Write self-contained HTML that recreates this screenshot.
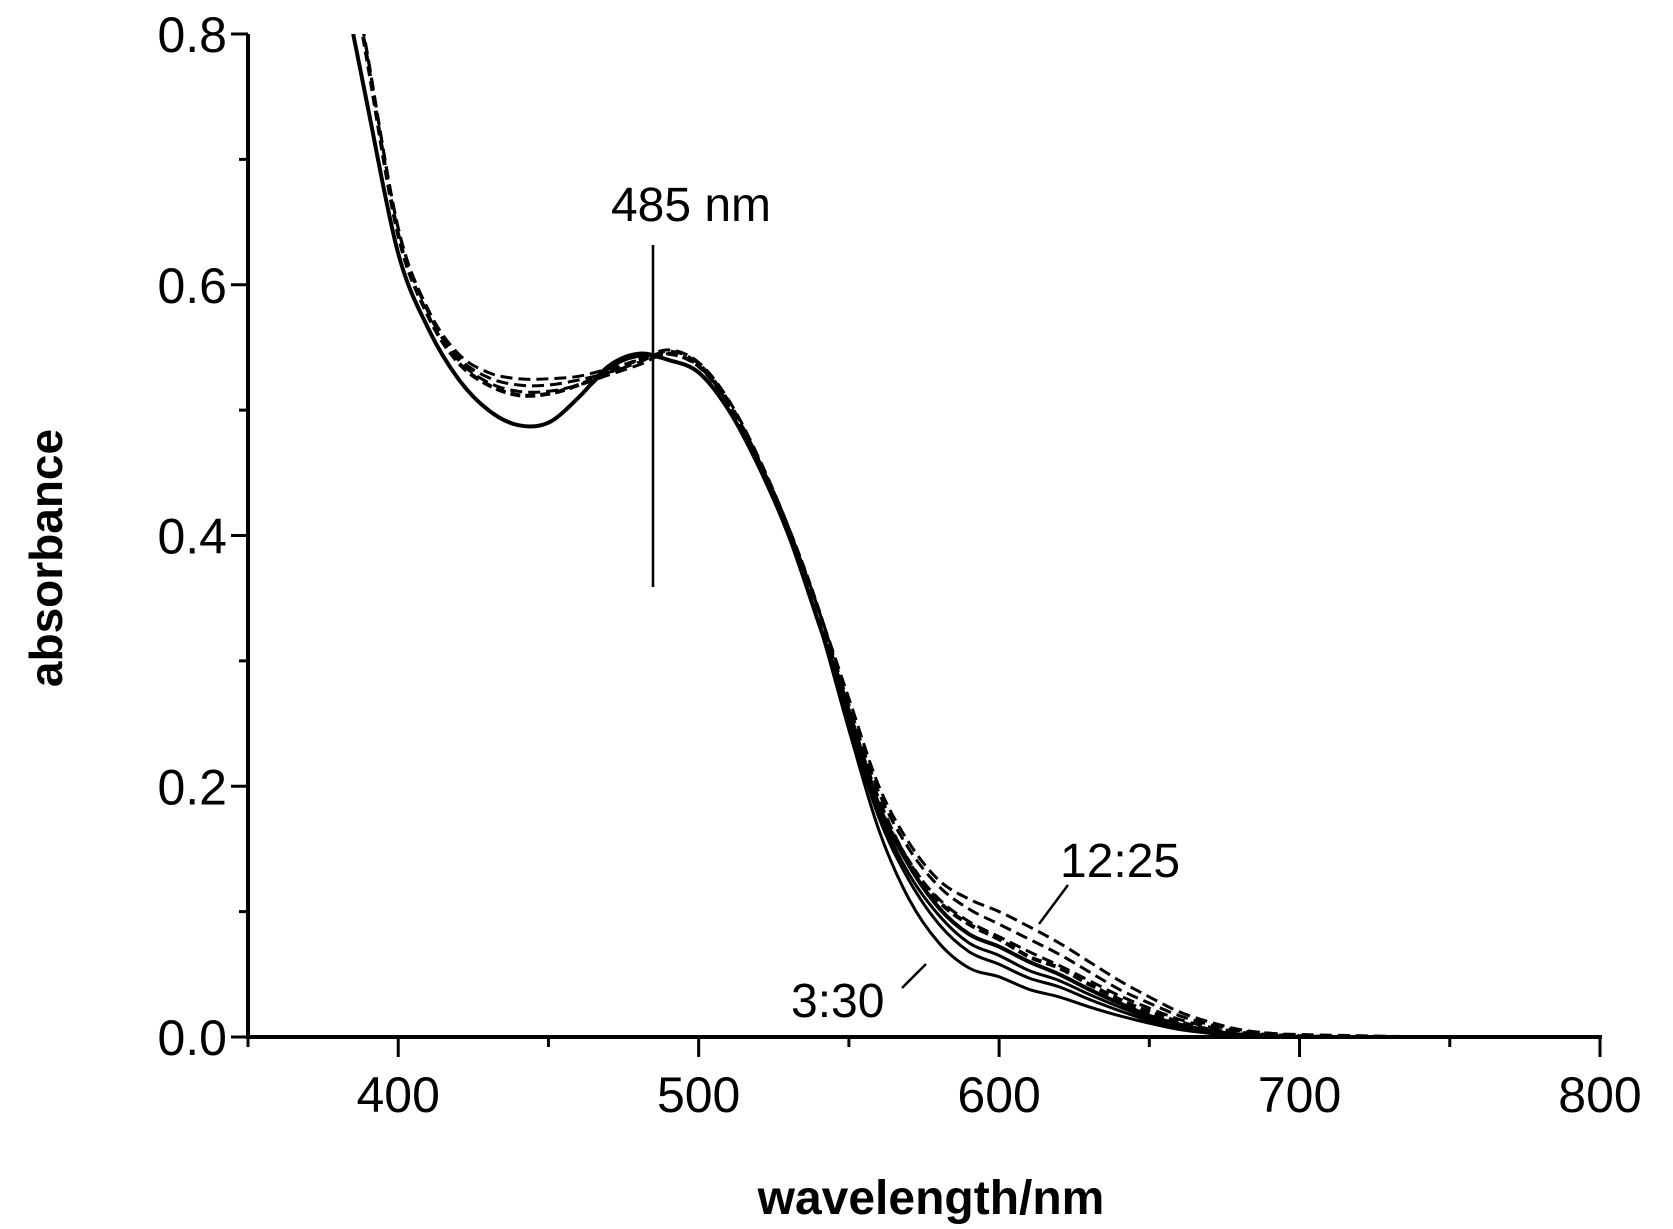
<!DOCTYPE html>
<html><head><meta charset="utf-8"><style>
html,body{margin:0;padding:0;background:#fff}
svg{display:block}
text{font-family:"Liberation Sans",Arial,sans-serif;fill:#000}
</style></head><body>
<svg id="chart" width="1673" height="1229" viewBox="0 0 1673 1229" xmlns="http://www.w3.org/2000/svg">
<defs><clipPath id="plotclip"><rect x="248" y="34" width="1352" height="1003"/></clipPath></defs>
<g id="series" clip-path="url(#plotclip)"></g>
<g id="axes"></g>
<line x1="653" y1="245" x2="653" y2="587" stroke="#000" stroke-width="2.5"/>
<text x="691" y="221" font-size="48" text-anchor="middle">485 nm</text>
<text x="1060" y="877" font-size="48">12:25</text>
<line x1="1068" y1="885" x2="1039" y2="924" stroke="#000" stroke-width="2.5"/>
<text x="791" y="1017" font-size="48">3:30</text>
<line x1="902" y1="988" x2="926" y2="964" stroke="#000" stroke-width="2.5"/>
<text x="0" y="0" font-size="46" font-weight="bold" text-anchor="middle" transform="translate(62,558) rotate(-90)">absorbance</text>
<text x="931" y="1214" font-size="48" font-weight="bold" text-anchor="middle">wavelength/nm</text>
</svg>
<script>
const wavelengths=[385,390,400,410,420,430,440,450,460,470,480,490,500,510,520,530,540,550,560,570,580,590,600,610,620,630,640,650,660,670,680,690,700,720,750,800];
const solid1=[0.80,0.74,0.625,0.565,0.525,0.50,0.488,0.49,0.51,0.533,0.543,0.54,0.53,0.50,0.455,0.40,0.33,0.245,0.165,0.11,0.075,0.055,0.048,0.038,0.032,0.024,0.017,0.011,0.006,0.003,0.001,0,0,0,0,0];
const solid2=[0.80,0.74,0.625,0.565,0.525,0.50,0.488,0.49,0.51,0.533,0.543,0.54,0.53,0.50,0.455,0.40,0.33,0.25,0.175,0.125,0.09,0.068,0.058,0.047,0.040,0.030,0.021,0.013,0.007,0.003,0.001,0,0,0,0,0];
const solid3=[0.80,0.74,0.625,0.565,0.525,0.50,0.488,0.49,0.51,0.533,0.543,0.54,0.53,0.50,0.455,0.40,0.33,0.255,0.18,0.13,0.097,0.075,0.065,0.053,0.045,0.034,0.024,0.015,0.008,0.004,0.002,0,0,0,0,0];
const solid4=[0.80,0.74,0.625,0.565,0.525,0.50,0.488,0.49,0.51,0.535,0.545,0.54,0.53,0.50,0.455,0.40,0.33,0.26,0.185,0.137,0.103,0.082,0.072,0.06,0.05,0.038,0.027,0.017,0.01,0.005,0.002,0.001,0,0,0,0];
const dash1=[0.85,0.78,0.645,0.578,0.54,0.522,0.515,0.515,0.52,0.528,0.536,0.545,0.535,0.505,0.46,0.405,0.34,0.27,0.2,0.155,0.125,0.11,0.1,0.088,0.075,0.06,0.045,0.032,0.02,0.012,0.006,0.003,0.002,0.001,0,0];
const dash2=[0.85,0.78,0.645,0.578,0.542,0.526,0.52,0.52,0.524,0.53,0.538,0.547,0.537,0.507,0.46,0.405,0.34,0.265,0.195,0.15,0.12,0.102,0.09,0.078,0.066,0.052,0.038,0.027,0.017,0.01,0.005,0.003,0.001,0,0,0];
const dash3=[0.85,0.78,0.645,0.58,0.545,0.53,0.525,0.525,0.527,0.533,0.54,0.548,0.538,0.508,0.462,0.406,0.34,0.26,0.19,0.14,0.11,0.092,0.08,0.068,0.057,0.045,0.033,0.023,0.014,0.008,0.004,0.002,0.001,0,0,0];
const dash4=[0.845,0.775,0.64,0.575,0.538,0.52,0.512,0.513,0.52,0.53,0.54,0.545,0.535,0.505,0.46,0.405,0.34,0.26,0.185,0.14,0.108,0.09,0.078,0.064,0.055,0.042,0.03,0.02,0.012,0.006,0.003,0.001,0,0,0,0];
const xTicks=[400,500,600,700,800];
const yTicks=[0.0,0.2,0.4,0.6,0.8];
const yTickLabels=["0.0","0.2","0.4","0.6","0.8"];

const NS="http://www.w3.org/2000/svg";
const X0=248,X1=1600,XMIN=350,XMAX=800,Y0=1037,Y1=34,YMIN=0,YMAX=0.8;
function sx(v){return X0+(v-XMIN)/(XMAX-XMIN)*(X1-X0);}
function sy(v){return Y0-(v-YMIN)/(YMAX-YMIN)*(Y0-Y1);}
function mk(tag,attrs,parent){const e=document.createElementNS(NS,tag);for(const k in attrs)e.setAttribute(k,attrs[k]);parent.appendChild(e);return e;}
function smooth(pts){
  let d='M'+pts[0][0].toFixed(1)+','+pts[0][1].toFixed(1);
  for(let i=0;i<pts.length-1;i++){
    const p0=pts[Math.max(0,i-1)],p1=pts[i],p2=pts[i+1],p3=pts[Math.min(pts.length-1,i+2)];
    const c1=[p1[0]+(p2[0]-p0[0])/6,p1[1]+(p2[1]-p0[1])/6];
    const c2=[p2[0]-(p3[0]-p1[0])/6,p2[1]-(p3[1]-p1[1])/6];
    d+=' C'+c1[0].toFixed(1)+','+c1[1].toFixed(1)+' '+c2[0].toFixed(1)+','+c2[1].toFixed(1)+' '+p2[0].toFixed(1)+','+p2[1].toFixed(1);
  }
  return d;
}

const sg=document.getElementById('series');
const list=[[solid1,'solid-1',3,null],[solid2,'solid-2',3,null],[solid3,'solid-3',3,null],[solid4,'solid-4',4,null],
 [dash1,'dashed-1',3,'12,6'],[dash2,'dashed-2',3,'12,6'],[dash3,'dashed-3',3,'12,6'],[dash4,'dashed-4',4,'10,5']];
list.forEach(function(s){
  const pts=wavelengths.map(function(w,i){return [sx(w),sy(s[0][i])];});
  const p=mk('path',{d:smooth(pts),fill:'none',stroke:'#000','stroke-width':s[2],'stroke-linejoin':'round'},sg);
  if(s[3])p.setAttribute('stroke-dasharray',s[3]);
  
  
});

const ax=document.getElementById('axes');
const yl=mk('line',{x1:X0,y1:Y1,x2:X0,y2:Y0+2,stroke:'#000','stroke-width':4},ax);


const xl=mk('line',{x1:X0-2,y1:Y0,x2:X1+2,y2:Y0,stroke:'#000','stroke-width':4},ax);


for(let v=XMIN;v<=XMAX;v+=50){
  const t=mk('line',{x1:sx(v),y1:Y0,x2:sx(v),y2:Y0+(v%100===0?20:10),stroke:'#000','stroke-width':3},ax);
  
  
}
xTicks.forEach(function(v){
  const t=mk('text',{x:sx(v),y:1112,'font-size':50,'text-anchor':'middle'},ax);
  t.textContent=String(v);
  
  
});
for(let i=0;i<=8;i++){
  const v=i*0.1;
  const t=mk('line',{x1:X0-(i%2===0?17:9),y1:sy(v),x2:X0,y2:sy(v),stroke:'#000','stroke-width':3},ax);
  
  
}
yTicks.forEach(function(v,i){
  const t=mk('text',{x:227,y:sy(v)+18,'font-size':50,'text-anchor':'end'},ax);
  t.textContent=yTickLabels[i];
  
  
});
</script>
</body></html>
